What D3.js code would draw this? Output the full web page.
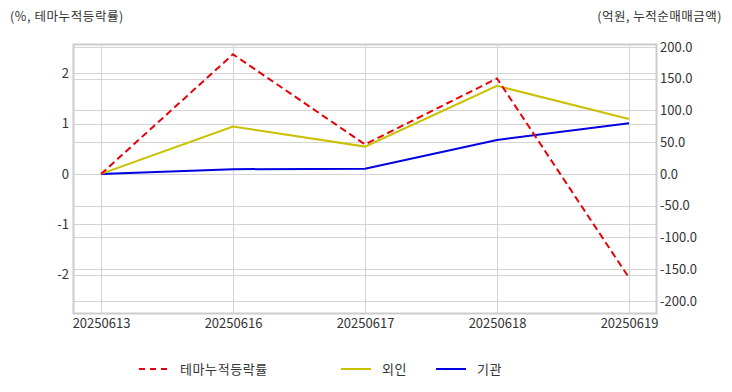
<!DOCTYPE html>
<html><head><meta charset="utf-8">
<script src="https://cdn.jsdelivr.net/npm/d3@7"></script>
<style>
body{margin:0;background:#fff;}
text{font-family:"Noto Sans CJK KR","Noto Sans",sans-serif;}
</style></head>
<body><svg id="c" width="732" height="392"></svg>
<script>
const dates = ["20250613","20250616","20250617","20250618","20250619"];
const themeRate = [0, 2.38, 0.59, 1.90, -2.06];
const foreign = [0, 74.5, 43.0, 138.6, 86.6];
const institution = [0, 7.4, 8.3, 53.5, 79.8];
const leftTicks = [-2, -1, 0, 1, 2];
const rightTicks = [-200, -150, -100, -50, 0, 50, 100, 150, 200];
const seriesNames = ["테마누적등락률", "외인", "기관"];
const colors = ["#e8000b", "#c8c000", "#0000e0"];

const svg = d3.select("#c");
const L = 74, R = 656, T = 45, B = 313;
const x = d3.scalePoint().domain(dates).range([L, R]).padding(0.2045);
const yL = d3.scaleLinear().domain([-2.76, 2.565]).range([B, T]);
const yR = d3.scaleLinear().domain([-219, 203]).range([B, T]);
const grid = "#d4d4d4";
const hy = s => s.replace("\u2212", "-");

// grid lines
svg.append("g").selectAll("line").data(leftTicks).join("line")
  .attr("x1", L).attr("x2", R).attr("y1", d => Math.round(yL(d)) + 0.5).attr("y2", d => Math.round(yL(d)) + 0.5)
  .attr("stroke", grid);
svg.append("g").selectAll("line").data(rightTicks).join("line")
  .attr("x1", L).attr("x2", R).attr("y1", d => Math.round(yR(d)) + 0.5).attr("y2", d => Math.round(yR(d)) + 0.5)
  .attr("stroke", grid);
svg.append("g").selectAll("line").data(dates).join("line")
  .attr("x1", d => Math.round(x(d)) + 0.5).attr("x2", d => Math.round(x(d)) + 0.5).attr("y1", T).attr("y2", B)
  .attr("stroke", grid);
svg.append("rect").attr("x", L - 0.5).attr("y", T - 0.5).attr("width", R - L + 1).attr("height", B - T + 1)
  .attr("fill", "none").attr("stroke", "#cccccc").attr("stroke-width", 2);

// axes
const axL = svg.append("g").attr("transform", `translate(${L},0)`)
  .call(d3.axisLeft(yL).tickValues(leftTicks).tickFormat(d => hy(d3.format("d")(d))).tickSize(0).tickPadding(5));
const axR = svg.append("g").attr("transform", `translate(${R},0)`)
  .call(d3.axisRight(yR).tickValues(rightTicks).tickFormat(d => hy(d3.format(".1f")(d))).tickSize(0).tickPadding(4));
const axB = svg.append("g").attr("transform", `translate(0,${B})`)
  .call(d3.axisBottom(x).tickSize(0).tickPadding(6));
[axL, axR, axB].forEach(a => {
  a.select(".domain").remove();
  a.selectAll("text").attr("fill", "#333").style("font-size", "13px")
    .style("font-family", '"Noto Sans CJK KR","Noto Sans",sans-serif');
});

// axis titles
svg.append("text").attr("x", 10).attr("y", 21).text("(%, 테마누적등락률)")
  .attr("fill", "#333").style("font-size", "12.5px").style("letter-spacing", "0.6px");
svg.append("text").attr("x", 722).attr("y", 21).attr("text-anchor", "end").text("(억원, 누적순매매금액)")
  .attr("fill", "#333").style("font-size", "12.5px").style("letter-spacing", "0.5px");

// lines
const lineL = d3.line().x((d, i) => x(dates[i])).y(d => yL(d));
const lineR = d3.line().x((d, i) => x(dates[i])).y(d => yR(d));
svg.append("path").datum(institution).attr("d", lineR).attr("fill", "none").attr("stroke", colors[2]).attr("stroke-width", 2);
svg.append("path").datum(foreign).attr("d", lineR).attr("fill", "none").attr("stroke", colors[1]).attr("stroke-width", 2);
svg.append("path").datum(themeRate).attr("d", lineL).attr("fill", "none").attr("stroke", colors[0]).attr("stroke-width", 2)
  .attr("stroke-dasharray", "7,4");

// legend
const leg = [{x: 139, w: 28, tx: 180}, {x: 341, w: 30, tx: 382}, {x: 436, w: 30, tx: 477}];
leg.forEach((l, i) => {
  svg.append("line").attr("x1", l.x).attr("x2", l.x + l.w).attr("y1", 369).attr("y2", 369)
    .attr("stroke", colors[i]).attr("stroke-width", 2).attr("stroke-dasharray", i === 0 ? "6,5" : null);
  svg.append("text").attr("x", l.tx).attr("y", 374).text(seriesNames[i]).attr("fill", "#333")
    .style("font-size", "13px").style("letter-spacing", "0.6px");
});
</script></body></html>
